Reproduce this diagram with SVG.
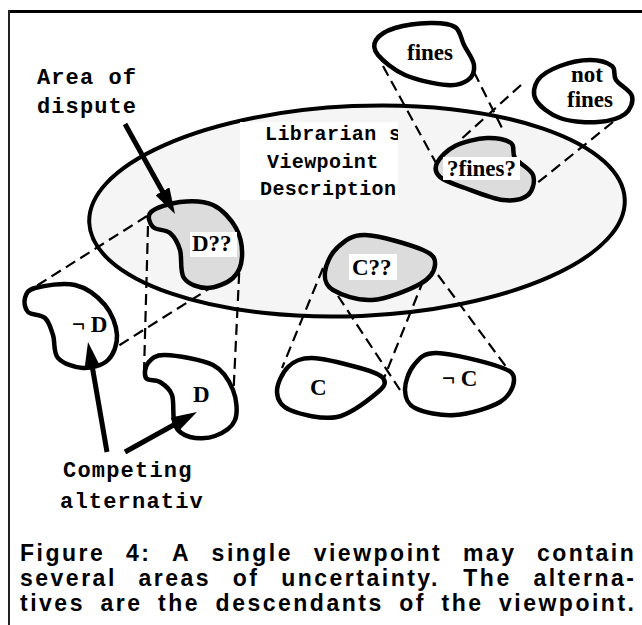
<svg xmlns="http://www.w3.org/2000/svg" width="642" height="625" viewBox="0 0 642 625">
<style>
.blob{stroke:#000;stroke-width:4.5;stroke-linejoin:round}
.outer{fill:#fff}
.inner{fill:#dcdcdc}
.dash{stroke:#000;stroke-width:2.2;stroke-dasharray:11 6;fill:none}
.arrow{stroke:#000;stroke-width:5;fill:none;marker-end:url(#head)}
.lbl{font-family:"Liberation Serif","Times New Roman",serif;font-weight:bold;font-size:23px;fill:#000}
.mono{font-family:"Liberation Mono","Courier New",monospace;font-weight:bold;fill:#000}
.cap{font-family:"Liberation Sans",Arial,sans-serif;font-weight:bold;font-size:23px;letter-spacing:2.5px;fill:#000}
.wbox{fill:#fff}
</style>
<defs>
<marker id="head" markerUnits="userSpaceOnUse" markerWidth="26" markerHeight="16" refX="6" refY="8" orient="auto">
<path d="M0,0 L26,8 L0,16 z" fill="#000"/>
</marker>
<clipPath id="libclip"><rect x="240" y="122" width="158" height="78"/></clipPath>
<clipPath id="altclip"><rect x="40" y="485" width="165" height="35"/></clipPath>
</defs>
<rect width="642" height="625" fill="#fff"/>
<g id="frame">
<line x1="8" y1="11.5" x2="642" y2="11.5" stroke="#000" stroke-width="3"/>
<line x1="9" y1="10" x2="9" y2="625" stroke="#222" stroke-width="2"/>
</g>
<g id="viewpoint">
<ellipse cx="357" cy="211" rx="268" ry="105" transform="rotate(-2.5 357 211)" fill="#f5f5f5" stroke="#000" stroke-width="4"/>
<rect class="wbox" x="240" y="122" width="158" height="78"/>
<g clip-path="url(#libclip)">
<text class="mono" font-size="20" letter-spacing="0.4" x="265" y="140">Librarian s</text>
<text class="mono" font-size="20" letter-spacing="0.4" x="267" y="168">Viewpoint</text>
<text class="mono" font-size="20" letter-spacing="0.4" x="260" y="195">Description</text>
</g>
</g>
<g id="connectors">
<line class="dash" x1="147" y1="216" x2="30" y2="290"/>
<line class="dash" x1="215" y1="285" x2="107" y2="353"/>
<line class="dash" x1="148" y1="226" x2="144" y2="372"/>
<line class="dash" x1="240" y1="256" x2="233" y2="402"/>
<line class="dash" x1="323" y1="268" x2="282" y2="368"/>
<line class="dash" x1="338" y1="296" x2="400" y2="390"/>
<line class="dash" x1="430" y1="264" x2="382" y2="383"/>
<line class="dash" x1="438" y1="275" x2="507" y2="368"/>
<line class="dash" x1="383" y1="66" x2="436" y2="163"/>
<line class="dash" x1="474" y1="72" x2="503" y2="130"/>
<line class="dash" x1="521" y1="85" x2="458" y2="142"/>
<line class="dash" x1="613" y1="122" x2="536" y2="184"/>
</g>
<g id="fines">
<path class="blob outer" d="M430,23 C440,22.8 449.3,23.3 455,27 C460.7,30.7 460.8,38.7 464,45 C467.2,51.3 473.3,59.2 474,65 C474.7,70.8 472.5,76.7 468,80 C463.5,83.3 457.5,85.8 447,85 C436.5,84.2 416.5,80 405,75 C393.5,70 382.8,60.8 378,55 C373.2,49.2 373.2,44.5 376,40 C378.8,35.5 386,30.8 395,28 C404,25.2 420,23.2 430,23 Z"/>
<text class="lbl" x="407" y="60">fines</text>
</g>
<g id="not-fines">
<path class="blob outer" d="M560,66 C568.7,62.7 581.3,60 590,60 C598.7,60 607.7,62.7 612,66 C616.3,69.3 612.7,75 616,80 C619.3,85 630.5,90.3 632,96 C633.5,101.7 630.7,109.7 625,114 C619.3,118.3 608.8,121.3 598,122 C587.2,122.7 570.3,121.7 560,118 C549.7,114.3 539.7,106.3 536,100 C532.3,93.7 534,85.7 538,80 C542,74.3 551.3,69.3 560,66 Z"/>
<text class="lbl" x="587" y="82" text-anchor="middle">not</text>
<text class="lbl" x="590" y="107" text-anchor="middle">fines</text>
</g>
<g id="q-fines">
<path class="blob inner" d="M487,138 C496.3,137.5 506.3,139.7 511,143 C515.7,146.3 511.3,152.7 515,158 C518.7,163.3 530.8,168.8 533,175 C535.2,181.2 533,190.8 528,195 C523,199.2 513.5,201.2 503,200 C492.5,198.8 475.5,191.8 465,188 C454.5,184.2 444.7,181.2 440,177 C435.3,172.8 434.5,168.2 437,163 C439.5,157.8 446.7,150.2 455,146 C463.3,141.8 477.7,138.5 487,138 Z"/>
<rect class="wbox" x="443" y="157" width="77" height="23"/>
<text class="lbl" x="447" y="176">?fines?</text>
</g>
<g id="d-q">
<path class="blob inner" d="M180,202 C190.3,200.8 203.7,200.7 213,205 C222.3,209.3 231.2,219.3 236,228 C240.8,236.7 242.5,248.7 242,257 C241.5,265.3 238.8,272.8 233,278 C227.2,283.2 215.2,288 207,288 C198.8,288 188.5,284.3 184,278 C179.5,271.7 182.3,257.5 180,250 C177.7,242.5 174.5,236.8 170,233 C165.5,229.2 156.2,230.5 153,227 C149.8,223.5 146.5,216.2 151,212 C155.5,207.8 169.7,203.2 180,202 Z"/>
<rect class="wbox" x="190" y="232" width="47" height="25"/>
<text class="lbl" x="192" y="251">D??</text>
</g>
<g id="c-q">
<path class="blob inner" d="M365,235 C379.3,235.3 411.3,245 423,250 C434.7,255 435.5,259.3 435,265 C434.5,270.7 430.5,278.2 420,284 C409.5,289.8 386.5,299 372,300 C357.5,301 340.8,294.7 333,290 C325.2,285.3 324.3,279 325,272 C325.7,265 330.3,254.2 337,248 C343.7,241.8 350.7,234.7 365,235 Z"/>
<rect class="wbox" x="349" y="254" width="48" height="26"/>
<text class="lbl" x="352" y="275">C??</text>
</g>
<g id="not-d">
<path class="blob outer" d="M35,288 C43.3,285.8 63.3,282.2 75,285 C86.7,287.8 98,296.7 105,305 C112,313.3 116.5,325.8 117,335 C117.5,344.2 113.7,354.5 108,360 C102.3,365.5 91.3,368.3 83,368 C74.7,367.7 63,363.5 58,358 C53,352.5 55.2,341.7 53,335 C50.8,328.3 49.2,321.8 45,318 C40.8,314.2 31.3,315.3 28,312 C24.7,308.7 23.8,302 25,298 C26.2,294 26.7,290.2 35,288 Z"/>
<text class="lbl" x="72" y="332">¬ D</text>
</g>
<g id="d">
<path class="blob outer" d="M165,355 C175.8,355.3 201.7,359.2 213,365 C224.3,370.8 229.3,380.8 233,390 C236.7,399.2 238,412.3 235,420 C232,427.7 222.5,433.2 215,436 C207.5,438.8 196.7,438.8 190,437 C183.3,435.2 178,432 175,425 C172,418 174.5,402.2 172,395 C169.5,387.8 164.3,384.8 160,382 C155.7,379.2 148,381.2 146,378 C144,374.8 144.8,366.8 148,363 C151.2,359.2 154.2,354.7 165,355 Z"/>
<text class="lbl" x="193" y="402">D</text>
</g>
<g id="c">
<path class="blob outer" d="M312,358 C324,358.2 348.2,364.7 360,368 C371.8,371.3 380,374 383,378 C386,382 385.7,385.5 378,392 C370.3,398.5 351.7,414 337,417 C322.3,420 300,414.2 290,410 C280,405.8 277.3,399.2 277,392 C276.7,384.8 282.2,372.7 288,367 C293.8,361.3 300,357.8 312,358 Z"/>
<text class="lbl" x="310" y="395">C</text>
</g>
<g id="not-c">
<path class="blob outer" d="M437,353 C451.3,353.3 487.2,362.5 500,367 C512.8,371.5 514,374.2 514,380 C514,385.8 509.8,396.2 500,402 C490.2,407.8 469.2,414 455,415 C440.8,416 423.3,412.2 415,408 C406.7,403.8 405.2,397.2 405,390 C404.8,382.8 408.7,371.2 414,365 C419.3,358.8 422.7,352.7 437,353 Z"/>
<text class="lbl" x="442" y="386">¬ C</text>
</g>
<g id="annotations">
<text class="mono" font-size="22" letter-spacing="1.1" x="37" y="84">Area of</text>
<text class="mono" font-size="22" letter-spacing="1.1" x="37" y="113">dispute</text>
<line class="arrow" x1="125" y1="124" x2="165.3" y2="196.5"/>
<text class="mono" font-size="22" letter-spacing="1.2" x="63" y="477">Competing</text>
<g clip-path="url(#altclip)">
<text class="mono" font-size="22" letter-spacing="1.2" x="60" y="508">alternatives</text>
</g>
<line class="arrow" x1="107" y1="452" x2="91.4" y2="361.7"/>
<line class="arrow" x1="125" y1="452" x2="179.5" y2="421.7"/>
</g>
<g id="caption">
<text class="cap" y="561"><tspan x="20">Figure</tspan><tspan x="125.9">4:</tspan><tspan x="171.9">A</tspan><tspan x="211.6">single</tspan><tspan x="313.7">viewpoint</tspan><tspan x="462.9">may</tspan><tspan x="537">contain</tspan></text>
<text class="cap" y="586"><tspan x="20">several</tspan><tspan x="138.5">areas</tspan><tspan x="232.8">of</tspan><tspan x="281.2">uncertainty.</tspan><tspan x="463.3">The</tspan><tspan x="533.4">alterna-</tspan></text>
<text class="cap" y="611"><tspan x="20">tives</tspan><tspan x="100.5">are</tspan><tspan x="158">the</tspan><tspan x="215.6">descendants</tspan><tspan x="399.2">of</tspan><tspan x="441.5">the</tspan><tspan x="499">viewpoint.</tspan></text>
</g>
</svg>
